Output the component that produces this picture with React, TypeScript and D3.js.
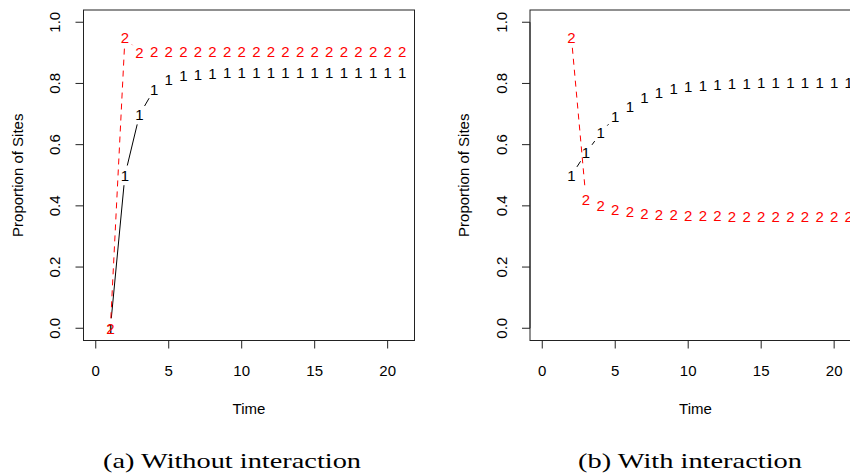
import React from "react";
import * as d3 from "d3";

// ---- data ----
const timeA = [1, 2, 3, 4, 5, 6, 7, 8, 9, 10, 11, 12, 13, 14, 15, 16, 17, 18, 19, 20, 21];
const seriesA1 = [0, 0.5, 0.698, 0.78, 0.813, 0.827, 0.83, 0.833, 0.834, 0.834, 0.834, 0.834, 0.834, 0.834, 0.834, 0.834, 0.834, 0.834, 0.834, 0.834, 0.834];
const seriesA2 = [0, 0.95, 0.902, 0.905, 0.905, 0.905, 0.905, 0.905, 0.905, 0.905, 0.905, 0.905, 0.905, 0.905, 0.905, 0.905, 0.905, 0.905, 0.905, 0.905, 0.905];

const timeB = [2, 3, 4, 5, 6, 7, 8, 9, 10, 11, 12, 13, 14, 15, 16, 17, 18, 19, 20, 21];
const seriesB1 = [0.5, 0.573, 0.638, 0.691, 0.725, 0.753, 0.769, 0.783, 0.789, 0.793, 0.796, 0.8, 0.801, 0.802, 0.802, 0.803, 0.803, 0.803, 0.803, 0.803];
const seriesB2 = [0.949, 0.42, 0.401, 0.389, 0.381, 0.376, 0.372, 0.371, 0.368, 0.367, 0.367, 0.366, 0.366, 0.366, 0.366, 0.366, 0.366, 0.366, 0.366, 0.366];

const xTicks = [0, 5, 10, 15, 20];
const yTicks = [0, 0.2, 0.4, 0.6, 0.8, 1.0];
const xLabel = "Time";
const yLabel = "Proportion of Sites";
const captions = ["(a) Without interaction", "(b) With interaction"];

const FONT = "'Liberation Sans', Arial, Helvetica, sans-serif";
const AXIS = "#222";

type Series = { t: number[]; v: number[]; label: string; color: string; dash?: string };

function Panel({ left, series }: { left: number; series: Series[] }) {
  const top = 10;
  const bottom = 340.5;
  const width = 331;
  const x = d3.scaleLinear().domain([-0.84, 21.84]).range([left, left + width]);
  const y = d3.scaleLinear().domain([-0.04, 1.04]).range([bottom, top]);
  const gap = 10;
  const tickLen = 8;

  return (
    <g>
      <rect x={left} y={top} width={width} height={bottom - top} fill="none" stroke={AXIS} strokeWidth={1} />
      {/* x axis */}
      <line x1={x(xTicks[0])} x2={x(xTicks[xTicks.length - 1])} y1={bottom} y2={bottom} stroke={AXIS} />
      {xTicks.map((t) => (
        <g key={"xt" + t}>
          <line x1={x(t)} x2={x(t)} y1={bottom} y2={bottom + tickLen} stroke={AXIS} />
          <text x={x(t)} y={376} fontSize={15} fontFamily={FONT} textAnchor="middle" fill="#000">
            {t}
          </text>
        </g>
      ))}
      <text x={left + width / 2} y={414} fontSize={15} fontFamily={FONT} textAnchor="middle" fill="#000">
        {xLabel}
      </text>
      {/* y axis */}
      <line x1={left} x2={left} y1={y(yTicks[0])} y2={y(yTicks[yTicks.length - 1])} stroke={AXIS} />
      {yTicks.map((t) => (
        <g key={"yt" + t}>
          <line x1={left - tickLen} x2={left} y1={y(t)} y2={y(t)} stroke={AXIS} />
          <text
            transform={`translate(${left - 23.5},${y(t)}) rotate(-90)`}
            fontSize={15}
            fontFamily={FONT}
            textAnchor="middle"
            fill="#000"
          >
            {t.toFixed(1)}
          </text>
        </g>
      ))}
      <text
        transform={`translate(${left - 61},${(top + bottom) / 2}) rotate(-90)`}
        fontSize={15}
        fontFamily={FONT}
        textAnchor="middle"
        fill="#000"
      >
        {yLabel}
      </text>
      {/* series: type "b" */}
      {series.map((s, si) => {
        const pts = s.t.map((t, i) => [x(t), y(s.v[i])]);
        const segs: JSX.Element[] = [];
        for (let i = 0; i < pts.length - 1; i++) {
          const [x0, y0] = pts[i];
          const [x1, y1] = pts[i + 1];
          const dx = x1 - x0;
          const dy = y1 - y0;
          const len = Math.hypot(dx, dy);
          if (len > 2 * gap) {
            const f = gap / len;
            segs.push(
              <line
                key={"s" + si + "-" + i}
                x1={x0 + f * dx}
                y1={y0 + f * dy}
                x2={x1 - f * dx}
                y2={y1 - f * dy}
                stroke={s.color}
                strokeWidth={1}
                strokeDasharray={s.dash}
              />
            );
          }
        }
        return (
          <g key={"ser" + si}>
            {segs}
            {pts.map(([px, py], i) => (
              <text
                key={"p" + si + "-" + i}
                x={px}
                y={py + 5.4}
                fontSize={15}
                fontFamily={FONT}
                textAnchor="middle"
                fill={s.color}
              >
                {s.label}
              </text>
            ))}
          </g>
        );
      })}
    </g>
  );
}

export default function App() {
  const seriesA: Series[] = [
    { t: timeA, v: seriesA1, label: "1", color: "#000" },
    { t: timeA, v: seriesA2, label: "2", color: "#ff0000", dash: "6,5" },
  ];
  const seriesB: Series[] = [
    { t: timeB, v: seriesB1, label: "1", color: "#000" },
    { t: timeB, v: seriesB2, label: "2", color: "#ff0000", dash: "6,5" },
  ];
  return (
    <div style={{ position: "absolute", left: 0, top: 0 }}>
      <svg width={850} height={475} style={{ display: "block", background: "#fff" }}>
        <Panel left={83.5} series={seriesA} />
        <Panel left={530} series={seriesB} />
        <text x={232} y={468} fontSize={21} fontFamily="'Liberation Serif', 'Times New Roman', serif" textAnchor="middle" textLength={258} lengthAdjust="spacingAndGlyphs">
          {captions[0]}
        </text>
        <text x={690} y={468} fontSize={21} fontFamily="'Liberation Serif', 'Times New Roman', serif" textAnchor="middle" textLength={224} lengthAdjust="spacingAndGlyphs">
          {captions[1]}
        </text>
      </svg>
    </div>
  );
}
